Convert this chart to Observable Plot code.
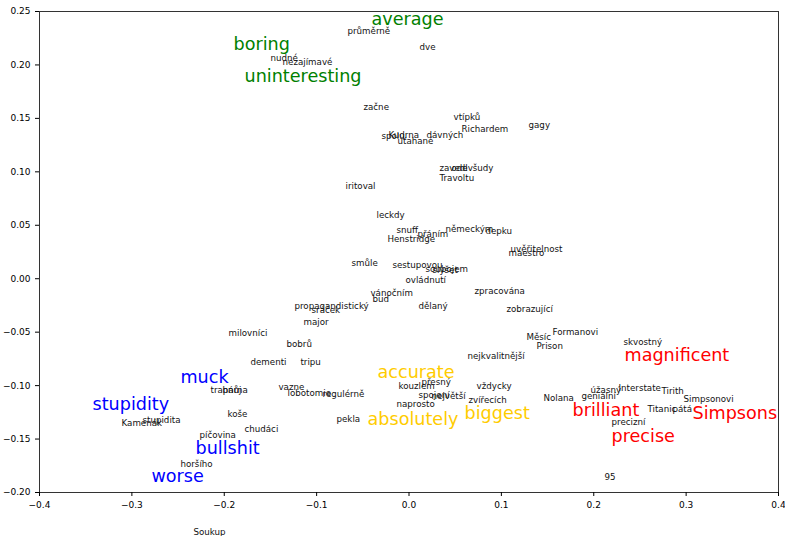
<!DOCTYPE html>
<html>
<head>
<meta charset="utf-8">
<script src="https://cdn.jsdelivr.net/npm/d3@7"></script>
<script src="https://cdn.jsdelivr.net/npm/@observablehq/plot@0.6"></script>
<style>
  html, body { margin: 0; padding: 0; background: #fff; }
</style>
</head>
<body>
<div id="chart"></div>
<script>
// Small (Czech) words
const smallWords = ["průměrně","dve","nudné","nezajímavé","začne","vtípků","Richardem","gagy","spolu","Kudrna","uťahané","dávných","zavedl","odevšudy","Travoltu","iritoval","leckdy","snuff","přáním","Henstridge","německým","depku","uvěřitelnost","maestro","smůle","sestupovou","soubojem","slyšet","ovládnutí","zpracována","vánočním","bud","propagandistický","sráček","dělaný","zobrazující","major","milovníci","Formanovi","Měsíc","skvostný","Prison","bobrů","nejkvalitnější","dementi","tripu","trapárna","hnůj","vazne","lobotomie","regulérně","kouzlem","přesný","vždycky","spojení","největší","zvířecích","naprosto","Nolana","úžasný","geniální","Interstate","Tirith","Simpsonovi","Titanic","pátá","precizní","koše","pekla","Kamenák","stupidita","chudáci","píčovina","horšího","95","Soukup"];
const smallX = [-0.0666,0.0114,-0.1499,-0.1369,-0.0493,0.0482,0.0568,0.1294,-0.0298,-0.0222,-0.0124,0.0189,0.0330,0.0460,0.0330,-0.0687,-0.0352,-0.0135,0.0092,-0.0233,0.0395,0.0828,0.1099,0.1077,-0.0622,-0.0179,0.0179,0.0254,-0.0038,0.0709,-0.0417,-0.0395,-0.1240,-0.1055,0.0103,0.1055,-0.1142,-0.1954,0.1553,0.1272,0.2322,0.1380,-0.1326,0.0633,-0.1716,-0.1175,-0.2149,-0.2019,-0.1413,-0.1315,-0.0936,-0.0114,0.0135,0.0731,0.0103,0.0244,0.0644,-0.0135,0.1456,0.1965,0.1867,0.2268,0.2733,0.2972,0.2582,0.2852,0.2192,-0.1965,-0.0785,-0.3112,-0.2885,-0.1781,-0.2268,-0.2474,0.2116,-0.2333];
const smallY = [0.2286,0.2136,0.2033,0.1996,0.1575,0.1481,0.1369,0.1406,0.1303,0.1313,0.1256,0.1313,0.1004,0.1004,0.0910,0.0835,0.0564,0.0424,0.0386,0.0340,0.0433,0.0414,0.0246,0.0209,0.0115,0.0096,0.0059,0.0050,-0.0044,-0.0147,-0.0166,-0.0222,-0.0287,-0.0325,-0.0287,-0.0315,-0.0437,-0.0540,-0.0530,-0.0577,-0.0624,-0.0661,-0.0643,-0.0755,-0.0811,-0.0811,-0.1073,-0.1073,-0.1045,-0.1101,-0.1110,-0.1036,-0.0998,-0.1036,-0.1120,-0.1129,-0.1167,-0.1204,-0.1148,-0.1073,-0.1129,-0.1054,-0.1082,-0.1157,-0.1251,-0.1251,-0.1372,-0.1298,-0.1344,-0.1382,-0.1354,-0.1438,-0.1494,-0.1765,-0.1887,-0.2402];

// Large (English) seed words
const bigWords = ["average","boring","uninteresting","muck","stupidity","bullshit","worse","accurate","absolutely","biggest","magnificent","brilliant","Simpsons","precise"];
const bigX = [-0.0406,-0.1900,-0.1781,-0.2474,-0.3426,-0.2311,-0.2788,-0.0341,-0.0449,0.0601,0.2333,0.1770,0.3069,0.2192];
const bigY = [0.2370,0.2136,0.1836,-0.0980,-0.1232,-0.1644,-0.1906,-0.0933,-0.1372,-0.1316,-0.0774,-0.1288,-0.1316,-0.1531];
const bigGroup = ["neutral","neutral","neutral","negative","negative","negative","negative","intensifier","intensifier","intensifier","positive","positive","positive","positive"];
const groupNames = ["neutral","negative","intensifier","positive"];
const groupColors = ["green","blue","#ffcc00","red"];

const xTicks = [-0.4,-0.3,-0.2,-0.1,0.0,0.1,0.2,0.3,0.4];
const yTicks = [-0.20,-0.15,-0.10,-0.05,0.00,0.05,0.10,0.15,0.20,0.25];

const small = smallWords.map((w, i) => ({w, x: smallX[i], y: smallY[i]}));
const big = bigWords.map((w, i) => ({w, x: bigX[i], y: bigY[i], g: bigGroup[i]}));

const fmtMinus = s => s.replace("-", "\u2212");

const chart = Plot.plot({
  width: 785,
  height: 536,
  marginLeft: 39,
  marginRight: 7,
  marginTop: 11,
  marginBottom: 44,
  style: {fontFamily: "DejaVu Sans", fontSize: "9px", background: "#fff", overflow: "visible"},
  x: {domain: [-0.4, 0.4], ticks: xTicks, tickFormat: d => fmtMinus(d.toFixed(1)), label: null, tickSize: 4},
  y: {domain: [-0.2, 0.25], ticks: yTicks, tickFormat: d => fmtMinus(d.toFixed(2)), label: null, tickSize: 4},
  color: {domain: groupNames, range: groupColors},
  marks: [
    Plot.frame({stroke: "#333"}),
    Plot.axisX({ticks: xTicks, tickFormat: d => fmtMinus(d.toFixed(1)), label: null, tickSize: 4, fontSize: 9, fill: "#000"}),
    Plot.axisY({ticks: yTicks, tickFormat: d => fmtMinus(d.toFixed(2)), label: null, tickSize: 4, fontSize: 9, fill: "#000"}),
    Plot.text(small, {x: "x", y: "y", text: "w", textAnchor: "start", lineAnchor: "bottom", fontSize: 8.7, fill: "#111", clip: false}),
    Plot.text(big, {x: "x", y: "y", text: "w", textAnchor: "start", lineAnchor: "bottom", fontSize: 17.6, fill: "g", clip: false})
  ]
});
document.getElementById("chart").appendChild(chart);
</script>
</body>
</html>
